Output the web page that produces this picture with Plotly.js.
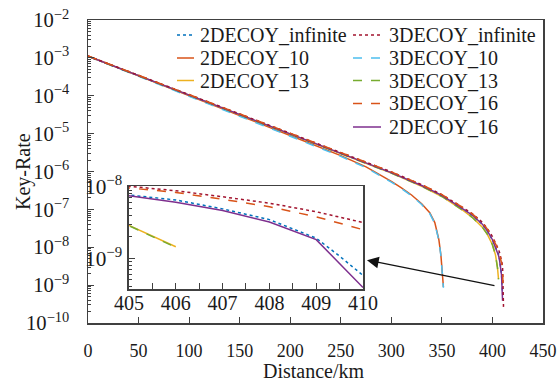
<!DOCTYPE html>
<html><head><meta charset="utf-8">
<script src="https://cdn.plot.ly/plotly-3.0.1.min.js"></script>
<style>html,body{margin:0;padding:0;background:#fff}#chart{width:558px;height:382px}</style>
</head><body><div id="chart"></div>
<script>
// ---- data (distance in km, key rate) ----
const dist_2DECOY_infinite = [0,50,100,150,200,250,300,330,350,370,380,390,395,400,403,405,406,407,408,409,409.5,410];
const rate_2DECOY_infinite = [1.10e-3,3.39e-4,1.05e-4,3.24e-5,1.0e-5,3.09e-6,9.33e-7,4.27e-7,2.34e-7,1.07e-7,7.08e-8,4.07e-8,2.69e-8,1.58e-8,1.05e-8,7.67e-9,6.53e-9,4.90e-9,3.47e-9,1.91e-9,1.07e-9,5.75e-10];

const dist_2DECOY_10 = [0,50,100,150,200,250,275,290,300,310,320,330,338,343,347,349,350.5,351.5];
const rate_2DECOY_10 = [1.12e-3,3.39e-4,1.02e-4,3.02e-5,8.91e-6,2.63e-6,1.32e-6,7.94e-7,5.50e-7,3.72e-7,2.40e-7,1.41e-7,8.13e-8,4.47e-8,1.58e-8,6.31e-9,2.51e-9,8.91e-10];

const dist_2DECOY_13 = [0,50,100,150,200,250,300,330,350,370,380,390,395,400,403,405,406];
const rate_2DECOY_13 = [1.10e-3,3.39e-4,1.05e-4,3.24e-5,1.0e-5,3.02e-6,9.12e-7,4.07e-7,2.19e-7,9.77e-8,6.17e-8,3.39e-8,2.19e-8,1.17e-8,6.31e-9,2.88e-9,1.45e-9];

const dist_3DECOY_infinite = [0,50,100,150,200,250,300,330,350,370,380,390,395,400,403,405,406,407,408,409,410,410.5,411];
const rate_3DECOY_infinite = [1.12e-3,3.47e-4,1.07e-4,3.31e-5,1.02e-5,3.16e-6,9.77e-7,4.47e-7,2.45e-7,1.15e-7,7.76e-8,4.57e-8,3.09e-8,1.91e-8,1.35e-8,1.0e-8,8.79e-9,7.24e-9,5.89e-9,4.47e-9,3.16e-9,1.26e-9,2.24e-10];

const dist_3DECOY_10 = [0,50,100,150,200,250,275,290,300,310,320,330,338,343,347,349,350.5,351.5];
const rate_3DECOY_10 = [1.10e-3,3.31e-4,9.77e-5,2.88e-5,8.51e-6,2.51e-6,1.26e-6,7.59e-7,5.25e-7,3.55e-7,2.29e-7,1.35e-7,7.76e-8,4.27e-8,1.51e-8,6.03e-9,2.40e-9,8.5e-10];

const dist_3DECOY_13 = [0,50,100,150,200,250,300,330,350,370,380,390,395,400,403,405,406];
const rate_3DECOY_13 = [1.10e-3,3.39e-4,1.05e-4,3.24e-5,1.0e-5,3.02e-6,9.12e-7,4.07e-7,2.19e-7,9.77e-8,6.17e-8,3.39e-8,2.19e-8,1.17e-8,6.25e-9,2.85e-9,1.42e-9];

const dist_3DECOY_16 = [0,50,100,150,200,250,300,330,350,370,380,390,395,400,403,405,406,407,408,409,410,410.5];
const rate_3DECOY_16 = [1.12e-3,3.47e-4,1.07e-4,3.31e-5,1.02e-5,3.16e-6,9.77e-7,4.47e-7,2.45e-7,1.15e-7,7.59e-8,4.47e-8,3.02e-8,1.82e-8,1.29e-8,9.55e-9,8.32e-9,6.68e-9,5.25e-9,3.80e-9,2.51e-9,8.91e-10];

const dist_2DECOY_16 = [0,50,100,150,200,250,300,330,350,370,380,390,395,400,403,405,406,407,408,409,410];
const rate_2DECOY_16 = [1.10e-3,3.39e-4,1.05e-4,3.24e-5,1.0e-5,3.09e-6,9.33e-7,4.27e-7,2.34e-7,1.07e-7,7.08e-8,4.07e-8,2.69e-8,1.58e-8,1.02e-8,7.50e-9,6.07e-9,4.65e-9,3.21e-9,1.82e-9,3.89e-10];

const seriesNames = ['2DECOY_infinite','2DECOY_10','2DECOY_13','3DECOY_infinite','3DECOY_10','3DECOY_13','3DECOY_16','2DECOY_16'];
const seriesX = [dist_2DECOY_infinite,dist_2DECOY_10,dist_2DECOY_13,dist_3DECOY_infinite,dist_3DECOY_10,dist_3DECOY_13,dist_3DECOY_16,dist_2DECOY_16];
const seriesY = [rate_2DECOY_infinite,rate_2DECOY_10,rate_2DECOY_13,rate_3DECOY_infinite,rate_3DECOY_10,rate_3DECOY_13,rate_3DECOY_16,rate_2DECOY_16];

const xTicks = [0,50,100,150,200,250,300,350,400,450];
const insetTicks = [405,406,407,408,409,410];
const xTitle = 'Distance/km';
const yTitle = 'Key-Rate';

// ---- styles ----
const styles = [
  {color:'#0072BD', dash:'dot'},
  {color:'#D95319', dash:'solid'},
  {color:'#EDB120', dash:'solid'},
  {color:'#A2142F', dash:'dot'},
  {color:'#4DBEEE', dash:'dash'},
  {color:'#77AC30', dash:'dash'},
  {color:'#D95319', dash:'dash'},
  {color:'#7E2F8E', dash:'solid'}
];
// legend layout (column, row) for each series, in pixels of the 558x382 page
const legendCol = [0,0,0,1,1,1,1,1];
const legendRow = [0,1,2,0,1,2,3,4];
const colSample = [[177,194],[353,381]];
const colText = [199,388];
const rowY = [35,58,80.5,103.5,127];

const drawOrder = [1,4,2,5,0,7,3,6];

const FONT = 'Liberation Serif';
const TXT = '#1a1a1a';
const frame = '#404040';
const M = {l:88, r:15, t:20, b:59};
const W = 558, H = 382;
const pw = W - M.l - M.r, ph = H - M.t - M.b;
const px2x = p => (p - M.l) / pw;
const py2y = p => (H - M.b - p) / ph;

const traces = [];
drawOrder.forEach(i=>{
  traces.push({x:seriesX[i], y:seriesY[i], name:seriesNames[i], type:'scatter', mode:'lines',
    showlegend:false, line:{color:styles[i].color, dash:styles[i].dash, width:1.5},
    xaxis:'x', yaxis:'y', hoverinfo:'skip'});
});
drawOrder.forEach(i=>{
  traces.push({x:seriesX[i], y:seriesY[i], name:seriesNames[i], type:'scatter', mode:'lines',
    showlegend:false, line:{color:styles[i].color, dash:styles[i].dash, width:1.5},
    xaxis:'x2', yaxis:'y2', hoverinfo:'skip'});
});

const shapes = [{type:'rect', xref:'x', yref:'y', x0:403.2, x1:411.7, y0:-9.26, y1:-8.0,
    line:{color:'#333', width:1.5}}];
const annotations = [
  {xref:'x', yref:'y', axref:'x', ayref:'y', x:275.9, y:-8.34, ax:403.5, ay:-9.02,
    text:'', showarrow:true, arrowhead:2, arrowsize:1.8, arrowwidth:1.3, arrowcolor:'#111'},
  {xref:'paper', yref:'paper', x:px2x(314), y:py2y(371), xanchor:'center', yanchor:'middle',
    text:xTitle, showarrow:false, font:{size:20, family:FONT, color:TXT}},
  {xref:'paper', yref:'paper', x:px2x(23), y:py2y(172), xanchor:'center', yanchor:'middle', textangle:-90,
    text:yTitle, showarrow:false, font:{size:20, family:FONT, color:TXT}}
];

seriesNames.forEach((nm,i)=>{
  const c = legendCol[i], yy = py2y(rowY[legendRow[i]]);
  shapes.push({type:'line', xref:'paper', yref:'paper',
    x0:px2x(colSample[c][0]), x1:px2x(colSample[c][1]), y0:yy, y1:yy,
    line:{color:styles[i].color, dash:styles[i].dash, width:1.5}});
  annotations.push({xref:'paper', yref:'paper', x:px2x(colText[c]), y:yy, xanchor:'left', yanchor:'middle',
    text:nm, showarrow:false, font:{size:20, family:FONT, color:TXT}, borderpad:0});
});

const layout = {
  width:W, height:H,
  margin:M,
  paper_bgcolor:'#fff', plot_bgcolor:'#fff',
  font:{family:FONT, color:TXT},
  showlegend:false,
  xaxis:{domain:[0,1], range:[0,450], tickvals:xTicks, ticks:'inside', ticklen:6, tickcolor:frame,
    showline:true, mirror:true, linecolor:frame, linewidth:1.5, showgrid:false, zeroline:false,
    tickfont:{size:18, family:FONT, color:TXT}, ticklabelstandoff:11},
  yaxis:{domain:[0,1], type:'log', range:[-10,-2], dtick:1, exponentformat:'power', ticks:'inside', ticklen:6, tickcolor:frame,
    minor:{ticks:'inside', ticklen:3, tickcolor:frame, showgrid:false},
    showline:true, mirror:true, linecolor:frame, linewidth:1.5, showgrid:false, zeroline:false,
    tickfont:{size:16.5, family:FONT, color:TXT}, ticklabelstandoff:14},
  xaxis2:{anchor:'y2', domain:[0.0901,0.6044], range:[405,410], tickvals:insetTicks, ticks:'inside', ticklen:6, tickcolor:frame,
    minor:{ticks:'inside', ticklen:6, dtick:0.5, tickcolor:frame, showgrid:false},
    showline:true, mirror:true, linecolor:frame, linewidth:1.5, showgrid:false, zeroline:false,
    tickfont:{size:20, family:FONT, color:TXT}, ticklabelstandoff:-5},
  yaxis2:{anchor:'x2', domain:[0.1122,0.4521], type:'log', range:[-9.43,-7.99], dtick:1, exponentformat:'power',
    ticks:'inside', ticklen:6, tickcolor:frame,
    minor:{ticks:'inside', ticklen:3, tickcolor:frame, showgrid:false},
    showline:true, mirror:true, linecolor:frame, linewidth:1.5, showgrid:false, zeroline:false,
    tickfont:{size:17, family:FONT, color:TXT}, ticklabelstandoff:2},
  shapes: shapes,
  annotations: annotations
};

Plotly.newPlot('chart', traces, layout, {staticPlot:true, displayModeBar:false});
</script>
</body></html>
